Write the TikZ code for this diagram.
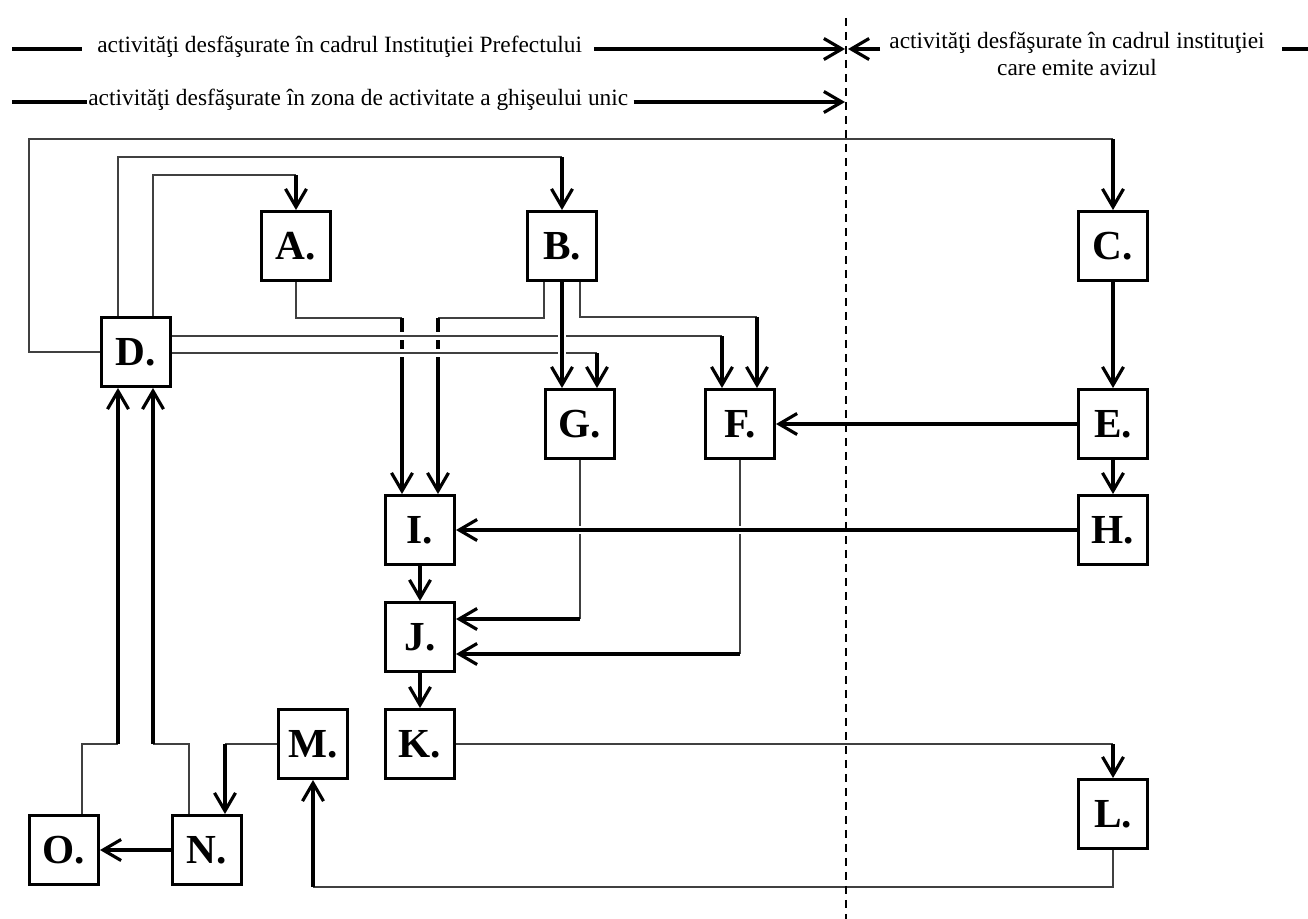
\documentclass[tikz,border=0pt]{standalone}
\usepackage{fontspec}
\setmainfont{Liberation Serif}
\usetikzlibrary{arrows.meta,calc,backgrounds}
\begin{document}
\begin{tikzpicture}[x=0.02cm,y=-0.02cm,
 box/.style={draw,line width=1.7pt,fill=white,minimum width=1.38cm,minimum height=1.38cm,inner sep=0pt,font=\fontsize{23.5}{25}\selectfont\bfseries},
 thinln/.style={line width=0.6pt,draw=black!75},
 arr/.style={line width=1.8pt,-{Straight Barb[length=0.36cm,width=0.42cm]}},
 halo/.style={preaction={draw=white,line width=0.16cm,arrows=-}},
 hline/.style={line width=1.8pt},
 harr/.style={line width=1.8pt,-{Straight Barb[length=0.36cm,width=0.42cm]}},
 htext/.style={inner sep=0pt,font=\fontsize{13.3}{15.5}\selectfont}
]
\useasboundingbox (0,0) rectangle (1308,919);

% boxes
\node[box] (A) at (296,246) {A.};
\node[box] (B) at (562,246) {B.};
\node[box] (C) at (1113,246) {C.};
\node[box] (D) at (136,352) {D.};
\node[box] (G) at (580,424) {G.};
\node[box] (F) at (740,424) {F.};
\node[box] (E) at (1113,424) {E.};
\node[box] (I) at (420,530) {I.};
\node[box] (H) at (1113,530) {H.};
\node[box] (J) at (420,637) {J.};
\node[box] (M) at (313,744) {M.};
\node[box] (K) at (420,744) {K.};
\node[box] (L) at (1113,814) {L.};
\node[box] (O) at (64,850) {O.};
\node[box] (N) at (207,850) {N.};

% helper coordinates
\coordinate (cDC1) at (29,352);
\coordinate (cDC2) at (29,139);
\coordinate (cDC3) at (1113,139);
\coordinate (cDB) at (562,157);
\coordinate (cDA) at (296,175);
\coordinate (cAI) at (402,318);
\coordinate (cBI) at (438,318);
\coordinate (cDF) at (722,336);
\coordinate (cDG) at (597,353);
\coordinate (cBF) at (757,317);
\coordinate (cGJ) at (580,619);
\coordinate (cFJ) at (740,654);
\coordinate (cKL) at (1113,744);
\coordinate (cLM1) at (1113,887);
\coordinate (cLM2) at (313,887);
\coordinate (cMN) at (225,744);
\coordinate (cND) at (153,744);
\coordinate (cOD) at (118,744);

\begin{scope}[on background layer]
% D -> C
\draw[thinln] (D.west) -- (cDC1) -- (cDC2) -- (cDC3);
\draw[arr] (cDC3) -- (C.north);
% D -> B
\draw[thinln] ($(D.north)+(-18,0)$) |- (cDB);
\draw[arr] (cDB) -- (B.north);
% D -> A
\draw[thinln] ($(D.north)+(17,0)$) |- (cDA);
\draw[arr] (cDA) -- (A.north);
% A -> I, B -> I
\draw[thinln] (A.south) |- (cAI);
\draw[arr] (cAI) -- ($(I.north)+(-18,0)$);
\draw[thinln] ($(B.south)+(-18,0)$) |- (cBI);
\draw[arr] (cBI) -- ($(I.north)+(18,0)$);
% D -> F, D -> G (crossing the verticals)
\draw[thinln,halo] ($(D.east)+(0,-16)$) -- (cDF);
\draw[arr] (cDF) -- ($(F.north)+(-18,0)$);
\draw[thinln,halo] ($(D.east)+(0,1)$) -- (cDG);
\draw[arr] (cDG) -- ($(G.north)+(17,0)$);
% B -> G
\draw[arr,halo] (B.south) -- ($(G.north)+(-18,0)$);
% B -> F
\draw[thinln] ($(B.south)+(18,0)$) |- (cBF);
\draw[arr] (cBF) -- ($(F.north)+(17,0)$);
% C -> E -> H, E -> F
\draw[arr] (C.south) -- (E.north);
\draw[arr] (E.south) -- (H.north);
\draw[arr] (E.west) -- (F.east);
% G -> J, F -> J
\draw[thinln] (G.south) -- (cGJ);
\draw[arr] (cGJ) -- (J.east |- cGJ);
\draw[thinln] (F.south) -- (cFJ);
\draw[arr] (cFJ) -- (J.east |- cFJ);
% H -> I
\draw[arr,halo] (H.west) -- (I.east);
% I -> J -> K
\draw[arr] (I.south) -- (J.north);
\draw[arr] (J.south) -- (K.north);
% K -> L
\draw[thinln] (K.east) -- (cKL);
\draw[arr] (cKL) -- (L.north);
% L -> M
\draw[thinln] (L.south) -- (cLM1) -- (cLM2);
\draw[arr] (cLM2) -- (M.south);
% M -> N
\draw[thinln] (M.west) -- (cMN);
\draw[arr] (cMN) -- ($(N.north)+(18,0)$);
% N -> O
\draw[arr] (N.west) -- (O.east);
% N -> D, O -> D
\draw[thinln] ($(N.north)+(-18,0)$) |- (cND);
\draw[arr] (cND) -- ($(D.south)+(17,0)$);
\draw[thinln] ($(O.north)+(18,0)$) |- (cOD);
\draw[arr] (cOD) -- ($(D.south)+(-18,0)$);
\end{scope}

% dividing dashed line
\coordinate (dtop) at (846,18);
\coordinate (dbot) at (846,919);
\draw[line width=1.2pt,dash pattern=on 0.16cm off 0.12cm] (dtop) -- (dbot);

% header
\coordinate (h1a) at (12,49);
\coordinate (h1b) at (82,49);
\coordinate (a1) at (845,49);
\coordinate (a1r) at (880,49);
\coordinate (a1l) at (848,49);
\coordinate (h3a) at (1282,49);
\coordinate (h3b) at (1308,49);
\coordinate (h2a) at (12,102);
\coordinate (h2b) at (87,102);
\coordinate (a2) at (845,102);

\draw[hline] (h1a) -- (h1b);
\node[htext,anchor=west] (t1) at (97,47) {activităţi desfăşurate în cadrul Instituţiei Prefectului};
\draw[harr] ($(t1.east |- a1)+(12,0)$) -- (a1);
\draw[harr] (a1r) -- (a1l);
\node[htext,align=center] (t3) at (1077,54) {activităţi desfăşurate în cadrul instituţiei\\care emite avizul};
\draw[hline] (h3a) -- (h3b);

\draw[hline] (h2a) -- (h2b);
\node[htext,anchor=west] (t2) at (88,100) {activităţi desfăşurate în zona de activitate a ghişeului unic};
\draw[harr] ($(t2.east |- a2)+(5,0)$) -- (a2);
\end{tikzpicture}
\end{document}
